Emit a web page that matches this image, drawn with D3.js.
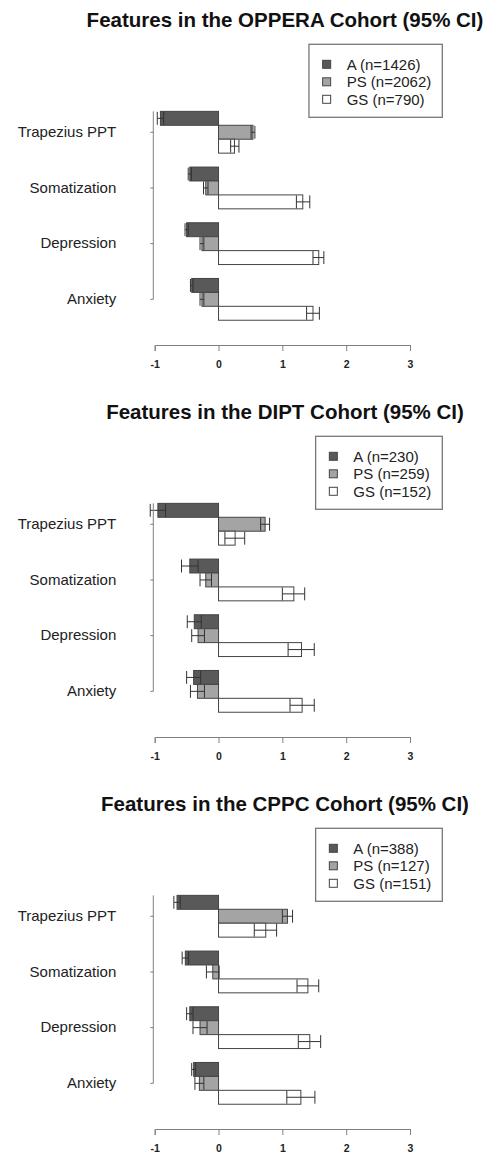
<!DOCTYPE html>
<html>
<head>
<meta charset="utf-8">
<script src="https://cdn.jsdelivr.net/npm/d3@7"></script>
<style>
  html, body { margin: 0; padding: 0; background: #fff; }
  svg { display: block; font-family: "Liberation Sans", Arial, sans-serif; }
</style>
</head>
<body>
<svg id="chart" width="489" height="1161"></svg>
<script>
// ---------- DATA ----------
const cohorts = ["OPPERA", "DIPT", "CPPC"];
const categories = ["Trapezius PPT", "Somatization", "Depression", "Anxiety"];
const groups = ["A", "PS", "GS"];
const groupN = [[1426, 2062, 790], [230, 259, 152], [388, 127, 151]];
const xTickValues = [-1, 0, 1, 2, 3];
const xTickLabels = ["-1", "0", "1", "2", "3"];

// OPPERA
const opperaA_mean  = [-0.91, -0.45, -0.50, -0.42];
const opperaA_lo    = [-0.96, -0.475, -0.525, -0.44];
const opperaA_hi    = [-0.86, -0.425, -0.475, -0.40];
const opperaPS_mean = [0.54, -0.20, -0.26, -0.26];
const opperaPS_lo   = [0.51, -0.235, -0.29, -0.29];
const opperaPS_hi   = [0.57, -0.165, -0.23, -0.23];
const opperaGS_mean = [0.25, 1.32, 1.57, 1.48];
const opperaGS_lo   = [0.19, 1.22, 1.48, 1.38];
const opperaGS_hi   = [0.32, 1.43, 1.65, 1.58];
// DIPT
const diptA_mean  = [-0.95, -0.45, -0.38, -0.39];
const diptA_lo    = [-1.07, -0.58, -0.49, -0.50];
const diptA_hi    = [-0.83, -0.32, -0.27, -0.28];
const diptPS_mean = [0.73, -0.20, -0.32, -0.33];
const diptPS_lo   = [0.66, -0.29, -0.42, -0.44];
const diptPS_hi   = [0.80, -0.11, -0.22, -0.22];
const diptGS_mean = [0.26, 1.18, 1.30, 1.31];
const diptGS_lo   = [0.10, 1.00, 1.09, 1.12];
const diptGS_hi   = [0.41, 1.35, 1.50, 1.50];
// CPPC
const cppcA_mean  = [-0.65, -0.52, -0.45, -0.39];
const cppcA_lo    = [-0.70, -0.57, -0.50, -0.42];
const cppcA_hi    = [-0.60, -0.47, -0.40, -0.36];
const cppcPS_mean = [1.08, -0.09, -0.29, -0.30];
const cppcPS_lo   = [1.00, -0.19, -0.40, -0.37];
const cppcPS_hi   = [1.16, 0.01, -0.18, -0.23];
const cppcGS_mean = [0.74, 1.40, 1.43, 1.29];
const cppcGS_lo   = [0.56, 1.23, 1.25, 1.07];
const cppcGS_hi   = [0.91, 1.57, 1.60, 1.51];

const panelData = [
  [[opperaA_mean, opperaA_lo, opperaA_hi], [opperaPS_mean, opperaPS_lo, opperaPS_hi], [opperaGS_mean, opperaGS_lo, opperaGS_hi]],
  [[diptA_mean, diptA_lo, diptA_hi], [diptPS_mean, diptPS_lo, diptPS_hi], [diptGS_mean, diptGS_lo, diptGS_hi]],
  [[cppcA_mean, cppcA_lo, cppcA_hi], [cppcPS_mean, cppcPS_lo, cppcPS_hi], [cppcGS_mean, cppcGS_lo, cppcGS_hi]]
];

// ---------- STYLE ----------
const fills = { A: "#595959", PS: "#a4a4a4", GS: "#ffffff" };
const barStroke = "#444";
const errStroke = "#333";
const axisColor = "#808080";
const panelStep = 392;

const svg = d3.select("#chart");
const x = d3.scaleLinear().domain([-1, 3]).range([154.7, 410]);

panelData.forEach((pd, p) => {
  const off = p * panelStep;
  const g = svg.append("g").attr("transform", `translate(0,${off})`);

  // title
  g.append("text")
    .attr("x", 285).attr("y", 27)
    .attr("text-anchor", "middle")
    .attr("font-size", 20.5).attr("font-weight", "bold")
    .attr("fill", "#111")
    .text(`Features in the ${cohorts[p]} Cohort (95% CI)`);

  // scales
  const y = d3.scaleBand().domain(categories).range([104.4, 327.2])
    .paddingInner(0.25).paddingOuter(0.125);
  const yi = d3.scaleBand().domain(groups).range([0, y.bandwidth()]);

  // rows
  const rows = [];
  categories.forEach((c, ci) => {
    groups.forEach((gr, gi) => {
      rows.push({ c, gr, mean: pd[gi][0][ci], lo: pd[gi][1][ci], hi: pd[gi][2][ci] });
    });
  });

  // bars
  g.selectAll("rect.bar").data(rows).enter().append("rect")
    .attr("class", "bar")
    .attr("x", d => Math.min(x(0), x(d.mean)))
    .attr("width", d => Math.abs(x(d.mean) - x(0)))
    .attr("y", d => y(d.c) + yi(d.gr))
    .attr("height", yi.bandwidth())
    .attr("fill", d => fills[d.gr])
    .attr("stroke", barStroke).attr("stroke-width", 1);

  // error bars
  const eg = g.selectAll("g.err").data(rows).enter().append("g")
    .attr("class", "err").attr("stroke", errStroke).attr("stroke-width", 1).attr("fill", "none");
  eg.append("line")
    .attr("x1", d => x(d.lo)).attr("x2", d => x(d.hi))
    .attr("y1", d => y(d.c) + yi(d.gr) + yi.bandwidth() / 2)
    .attr("y2", d => y(d.c) + yi(d.gr) + yi.bandwidth() / 2);
  ["lo", "hi"].forEach(k => {
    eg.append("line")
      .attr("x1", d => x(d[k])).attr("x2", d => x(d[k]))
      .attr("y1", d => y(d.c) + yi(d.gr) + 0.5)
      .attr("y2", d => y(d.c) + yi(d.gr) + yi.bandwidth() - 0.5);
  });

  // y axis
  const yAxisX = x(-1) - 1.4;
  const yAx = g.append("g").attr("transform", `translate(${yAxisX},0)`)
    .call(d3.axisLeft(y).tickSize(3).tickPadding(34));
  yAx.select(".domain").remove();
  yAx.selectAll(".tick line").attr("stroke", axisColor);
  yAx.selectAll(".tick text").attr("font-size", 15).attr("fill", "#222")
    .attr("font-family", "Liberation Sans, Arial, sans-serif");
  yAx.append("line")
    .attr("x1", 0).attr("x2", 0)
    .attr("y1", y(categories[0]))
    .attr("y2", y(categories[categories.length - 1]) + y.bandwidth() / 2)
    .attr("stroke", axisColor);

  // x axis
  const xAx = g.append("g").attr("transform", `translate(0,345)`)
    .call(d3.axisBottom(x).tickValues(xTickValues)
      .tickFormat((d, i) => xTickLabels[i]).tickSize(6).tickPadding(10));
  xAx.select(".domain").attr("stroke", axisColor);
  xAx.selectAll(".tick line").attr("stroke", axisColor);
  xAx.selectAll(".tick text").attr("font-size", 10.5).attr("font-weight", "bold")
    .attr("fill", "#222").attr("font-family", "Liberation Sans, Arial, sans-serif");

  // legend
  const lg = g.append("g");
  const labels = groups.map((gr, i) => `${gr} (n=${groupN[p][i]})`);
  const rowY = [64.3, 81.8, 99.3];
  const texts = lg.selectAll("text").data(labels).enter().append("text")
    .attr("y", (d, i) => rowY[i]).attr("dy", "0.36em")
    .attr("font-size", 15).attr("fill", "#222")
    .text(d => d);
  let maxW = 0;
  texts.each(function () { maxW = Math.max(maxW, this.getComputedTextLength()); });
  const right = 442.3;
  const left = right - (maxW + 48.7);
  texts.attr("x", left + 37.7);
  lg.insert("rect", "text")
    .attr("x", left).attr("y", 44.3)
    .attr("width", right - left).attr("height", 73)
    .attr("fill", "#fff").attr("stroke", "#777").attr("stroke-width", 1.3);
  lg.selectAll("rect.key").data(groups).enter().append("rect")
    .attr("class", "key")
    .attr("x", left + 13.7).attr("y", (d, i) => rowY[i] - 4)
    .attr("width", 8).attr("height", 8)
    .attr("fill", d => fills[d]).attr("stroke", "#444").attr("stroke-width", 1);
});
</script>
</body>
</html>
